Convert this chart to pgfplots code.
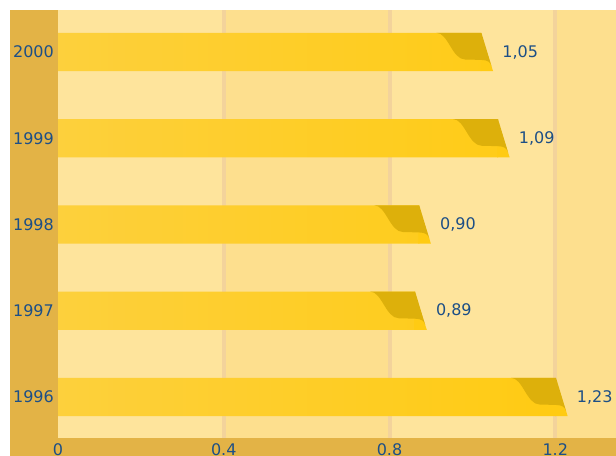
\documentclass[border=0pt]{standalone}
\usepackage{fontspec}
\setmainfont{DejaVu Sans}
\usepackage{pgfplots}
\usepackage{pgfplotstable}
\pgfplotsset{compat=1.18}
\definecolor{bgc}{HTML}{FEE49C}
\definecolor{stripec}{HTML}{FDDF8E}
\definecolor{gridc}{HTML}{F3D39B}
\definecolor{bandc}{HTML}{E3B346}
\definecolor{barL}{HTML}{FDD03C}
\definecolor{barR}{HTML}{FFCB13}
\definecolor{darkc}{HTML}{DDB00B}
\definecolor{txtc}{HTML}{1D4F86}
\pgfplotstableread{
y v lab
0 1.23 1,23
1 0.89 0,89
2 0.90 0,90
3 1.09 1,09
4 1.05 1,05
}\datatable
\pgfdeclareplotmark{tail}{%
  \pgfsetfillcolor{barR}%
  \pgfpathmoveto{\pgfpoint{-12.6bp}{19.2bp}}%
  \pgfpathlineto{\pgfpoint{0bp}{-19.2bp}}%
  \pgfpathlineto{\pgfpoint{-12.6bp}{-19.2bp}}%
  \pgfpathclose
  \pgfusepath{fill}%
  \pgfsetfillcolor{darkc}%
  \pgfpathmoveto{\pgfpoint{-56.7bp}{19.2bp}}%
  \pgfpathcurveto{\pgfpoint{-45bp}{19.2bp}}{\pgfpoint{-41bp}{-7.5bp}}{\pgfpoint{-28bp}{-7.5bp}}%
  \pgfpathlineto{\pgfpoint{-12bp}{-7.9bp}}%
  \pgfpathcurveto{\pgfpoint{-5bp}{-8.1bp}}{\pgfpoint{-3bp}{-10bp}}{\pgfpoint{-1.6bp}{-14.2bp}}%
  \pgfpathlineto{\pgfpoint{-11.7bp}{19.2bp}}%
  \pgfpathclose
  \pgfusepath{fill}%
}
\begin{document}
\begin{tikzpicture}
\begin{axis}[
  name=ax,
  set layers,
  clip=false,
  scale only axis,
  width=558bp, height=428bp,
  xmin=0, xmax=1.3465,
  ymin=-0.475, ymax=4.487,
  axis line style={draw=none},
  major tick length=0pt,
  xtick={0.4,0.8,1.2},
  xticklabels={0.4,0.8,1.2},
  extra x ticks={0},
  extra x tick labels={0},
  extra x tick style={grid=none},
  xmajorgrids,
  grid style={line width=4bp, gridc},
  ytick={0,1,2,3,4},
  yticklabels={1996,1997,1998,1999,2000},
  ticklabel style={font=\fontsize{16bp}{18bp}\selectfont, text=txtc, inner sep=0pt},
  yticklabel style={anchor=east, xshift=-4bp},
  xticklabel style={anchor=north, yshift=-5bp},
  /pgf/number format/assume math mode=true,
  axis background/.style={fill=bgc},
]
\begin{pgfonlayer}{axis background}
  \fill[stripec] (axis cs:0.4,-0.475) rectangle (axis cs:0.8,4.487);
  \fill[stripec] (axis cs:1.2,-0.475) rectangle (axis cs:1.3465,4.487);
  \fill[bandc] ([xshift=-48bp,yshift=-30bp]rel axis cs:0,0) rectangle (rel axis cs:0,1);
  \fill[bandc] ([xshift=-48bp,yshift=-30bp]rel axis cs:0,0) rectangle (rel axis cs:1,0);
\end{pgfonlayer}
\addplot[xbar, bar width=38.4bp, draw=none, left color=barL, right color=barR,
  x filter/.expression={x-0.0282}]
  table[x=v, y=y] {\datatable};
\addplot[only marks, mark=tail,
  point meta=explicit symbolic,
  nodes near coords,
  every node near coord/.style={anchor=west, xshift=9bp, inner sep=0pt,
    font=\fontsize{16bp}{18bp}\selectfont, text=txtc}]
  table[x=v, y=y, meta=lab] {\datatable};
\end{axis}
\pgfresetboundingbox
\path ([xshift=-58bp,yshift=-18bp]ax.south west) rectangle ([yshift=10bp]ax.north east);
\end{tikzpicture}
\end{document}
